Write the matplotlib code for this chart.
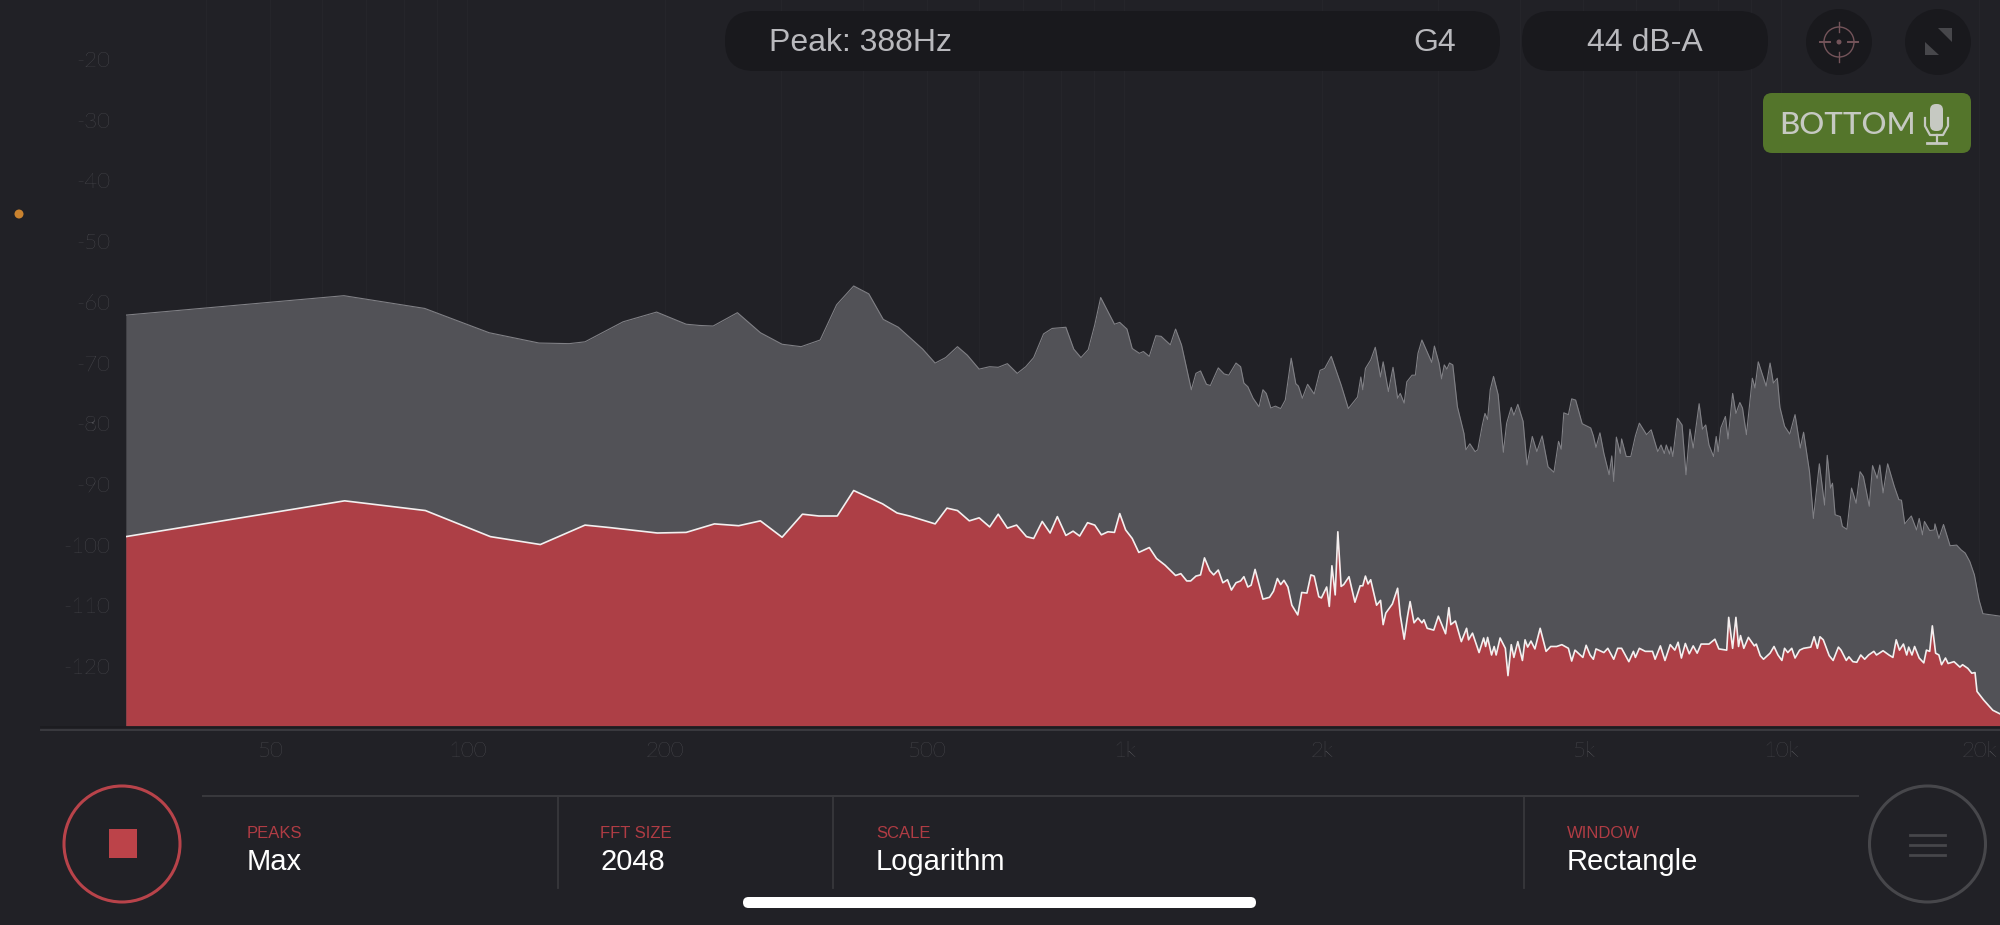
import numpy as np
import matplotlib
matplotlib.use('Agg')
import matplotlib.pyplot as plt
from matplotlib.patches import FancyBboxPatch, Circle, Rectangle, Polygon

BG = '#212126'
DIM = '#636368'
RED = '#ad3f46'

# (log10 of frequency in Hz, level in dB)
peak_max = [
    (1.480, -62.2), (1.812, -59.0), (1.935, -61.1), (2.033, -65.1), (2.109, -66.8), (2.155, -66.9),
    (2.179, -66.6), (2.237, -63.3), (2.288, -61.7), (2.333, -63.7), (2.353, -63.9), (2.374, -64.0),
    (2.411, -61.8), (2.446, -65.1), (2.479, -67.0), (2.508, -67.4), (2.537, -66.3), (2.562, -60.5),
    (2.588, -57.4), (2.611, -58.7), (2.633, -62.9), (2.656, -64.2), (2.693, -67.8), (2.712, -70.1),
    (2.728, -69.2), (2.746, -67.4), (2.761, -68.8), (2.779, -71.1), (2.795, -70.7), (2.808, -70.8),
    (2.822, -70.2), (2.837, -71.8), (2.850, -70.7), (2.862, -69.2), (2.877, -65.3), (2.890, -64.4),
    (2.911, -64.2), (2.923, -67.8), (2.934, -69.2), (2.945, -67.9), (2.955, -63.8), (2.964, -59.3),
    (2.985, -63.7), (2.993, -63.4), (3.004, -64.5), (3.012, -67.7), (3.023, -68.5), (3.029, -68.2),
    (3.038, -69.0), (3.048, -65.6), (3.056, -65.7), (3.070, -67.1), (3.078, -64.5), (3.087, -67.1),
    (3.102, -74.5), (3.109, -71.8), (3.116, -71.4), (3.125, -73.6), (3.131, -73.8), (3.143, -70.9),
    (3.152, -71.9), (3.159, -72.1), (3.170, -70.1), (3.177, -70.7), (3.182, -73.4), (3.188, -74.0),
    (3.196, -75.9), (3.205, -77.3), (3.211, -74.5), (3.216, -75.1), (3.223, -77.5), (3.230, -77.2),
    (3.238, -77.6), (3.245, -76.2), (3.254, -69.3), (3.261, -73.5), (3.265, -73.9), (3.271, -75.9),
    (3.279, -73.6), (3.289, -75.2), (3.298, -71.3), (3.305, -71.0), (3.315, -69.0), (3.330, -73.7),
    (3.341, -77.6), (3.355, -75.7), (3.360, -72.4), (3.363, -74.5), (3.367, -71.0), (3.375, -69.6),
    (3.382, -67.5), (3.390, -72.4), (3.394, -69.9), (3.402, -74.8), (3.409, -70.8), (3.416, -75.9),
    (3.420, -75.1), (3.426, -76.7), (3.430, -73.2), (3.438, -72.1), (3.443, -72.1), (3.447, -68.5),
    (3.453, -66.3), (3.462, -68.5), (3.468, -70.0), (3.472, -67.3), (3.479, -70.1), (3.483, -72.7),
    (3.487, -70.4), (3.491, -71.1), (3.495, -70.1), (3.500, -70.4), (3.507, -77.3), (3.517, -81.7),
    (3.520, -84.4), (3.526, -83.4), (3.534, -84.7), (3.538, -84.4), (3.545, -80.3), (3.549, -78.4),
    (3.553, -79.4), (3.557, -74.5), (3.562, -72.3), (3.569, -75.3), (3.577, -84.8), (3.582, -80.0),
    (3.589, -77.4), (3.593, -78.7), (3.599, -76.9), (3.607, -79.7), (3.613, -86.9), (3.621, -82.2),
    (3.628, -84.7), (3.636, -82.1), (3.645, -87.2), (3.654, -88.1), (3.661, -83.0), (3.665, -84.3),
    (3.669, -78.3), (3.676, -78.6), (3.681, -76.0), (3.687, -76.2), (3.697, -80.1), (3.710, -80.8),
    (3.714, -82.1), (3.718, -84.0), (3.724, -81.6), (3.730, -85.0), (3.738, -88.5), (3.742, -85.4),
    (3.745, -89.6), (3.749, -82.3), (3.755, -85.0), (3.757, -82.6), (3.764, -85.5), (3.771, -85.5),
    (3.778, -82.1), (3.784, -80.0), (3.795, -81.9), (3.802, -81.1), (3.812, -84.7), (3.817, -83.6),
    (3.822, -85.0), (3.825, -83.6), (3.830, -85.1), (3.832, -83.9), (3.835, -85.5), (3.842, -79.2),
    (3.849, -80.3), (3.855, -88.5), (3.861, -81.0), (3.866, -84.1), (3.875, -76.8), (3.880, -81.0),
    (3.885, -80.3), (3.890, -83.6), (3.897, -85.5), (3.901, -82.2), (3.904, -84.7), (3.908, -80.8),
    (3.915, -78.9), (3.919, -82.6), (3.926, -75.1), (3.931, -78.4), (3.937, -76.6), (3.941, -77.5),
    (3.947, -81.9), (3.956, -72.6), (3.960, -74.2), (3.965, -69.9), (3.977, -73.9), (3.983, -70.1),
    (3.988, -73.4), (3.994, -72.6), (3.998, -77.4), (4.005, -80.5), (4.013, -81.8), (4.021, -78.6),
    (4.029, -84.1), (4.034, -81.5), (4.043, -88.0), (4.049, -95.7), (4.058, -86.7), (4.066, -93.5),
    (4.070, -85.3), (4.075, -90.7), (4.078, -89.9), (4.082, -95.1), (4.090, -95.4), (4.093, -97.0),
    (4.100, -97.5), (4.107, -90.7), (4.114, -93.2), (4.120, -88.0), (4.125, -88.8), (4.134, -93.7),
    (4.139, -87.0), (4.146, -89.1), (4.150, -86.9), (4.155, -91.5), (4.162, -86.7), (4.172, -90.4),
    (4.179, -92.6), (4.183, -92.7), (4.188, -96.6), (4.198, -95.3), (4.206, -97.6), (4.210, -95.7),
    (4.215, -98.4), (4.218, -96.2), (4.226, -97.7), (4.233, -97.6), (4.234, -96.6), (4.240, -99.0),
    (4.247, -96.7), (4.257, -100.2), (4.267, -100.1), (4.274, -100.9), (4.280, -101.4), (4.287, -102.8),
    (4.294, -105.0), (4.301, -109.1), (4.307, -111.4), (4.333, -111.8),
]

live = [
    (1.480, -98.7), (1.813, -92.8), (1.936, -94.4), (2.035, -98.7), (2.111, -100.0), (2.179, -96.8),
    (2.216, -97.2), (2.289, -98.1), (2.333, -98.0), (2.376, -96.6), (2.413, -96.9), (2.446, -96.1),
    (2.479, -98.8), (2.510, -95.0), (2.535, -95.3), (2.563, -95.3), (2.588, -91.1), (2.632, -93.3),
    (2.654, -94.8), (2.673, -95.3), (2.712, -96.6), (2.730, -94.0), (2.746, -94.4), (2.764, -96.1),
    (2.779, -95.6), (2.795, -97.1), (2.808, -95.0), (2.822, -97.3), (2.836, -96.8), (2.851, -98.7),
    (2.862, -99.0), (2.875, -96.2), (2.887, -98.1), (2.898, -95.4), (2.911, -98.5), (2.922, -97.8),
    (2.932, -98.6), (2.944, -96.4), (2.955, -96.8), (2.965, -98.4), (2.975, -97.9), (2.985, -98.0),
    (2.993, -94.9), (3.002, -97.6), (3.012, -99.0), (3.022, -101.3), (3.038, -100.5), (3.049, -102.3),
    (3.062, -103.4), (3.078, -105.1), (3.086, -104.8), (3.095, -106.0), (3.101, -106.0), (3.109, -105.2),
    (3.116, -105.0), (3.122, -102.2), (3.130, -104.3), (3.136, -105.0), (3.143, -104.2), (3.150, -106.3),
    (3.157, -105.8), (3.163, -107.5), (3.170, -106.3), (3.177, -106.0), (3.182, -105.3), (3.188, -107.0),
    (3.193, -106.7), (3.199, -104.1), (3.211, -109.0), (3.221, -108.7), (3.227, -107.7), (3.233, -105.6),
    (3.238, -106.6), (3.243, -105.9), (3.249, -107.0), (3.255, -110.0), (3.264, -111.6), (3.270, -107.9),
    (3.278, -108.0), (3.284, -105.0), (3.289, -105.2), (3.296, -108.6), (3.300, -108.8), (3.308, -107.0),
    (3.312, -110.2), (3.316, -103.5), (3.321, -108.3), (3.325, -97.9), (3.330, -106.9), (3.334, -106.6),
    (3.342, -105.3), (3.351, -109.5), (3.359, -106.8), (3.363, -106.8), (3.367, -105.2), (3.371, -106.5),
    (3.375, -105.8), (3.384, -110.0), (3.390, -109.2), (3.394, -113.2), (3.398, -111.3), (3.408, -109.8),
    (3.416, -107.2), (3.420, -111.6), (3.426, -115.6), (3.431, -111.9), (3.435, -109.4), (3.441, -112.9),
    (3.447, -112.1), (3.453, -112.9), (3.456, -112.4), (3.461, -113.8), (3.471, -114.1), (3.478, -111.8),
    (3.489, -114.7), (3.494, -110.4), (3.497, -113.2), (3.504, -112.6), (3.513, -116.0), (3.521, -113.8),
    (3.524, -115.7), (3.530, -114.6), (3.540, -117.8), (3.547, -115.4), (3.550, -116.8), (3.553, -115.3),
    (3.559, -118.2), (3.563, -116.8), (3.566, -118.2), (3.572, -115.4), (3.580, -117.1), (3.584, -121.6),
    (3.589, -116.5), (3.593, -118.6), (3.599, -116.0), (3.606, -119.1), (3.610, -115.7), (3.614, -116.9),
    (3.619, -115.9), (3.625, -117.2), (3.633, -113.8), (3.642, -117.6), (3.649, -116.8), (3.658, -116.8),
    (3.666, -116.5), (3.676, -117.1), (3.681, -119.2), (3.686, -117.4), (3.698, -118.6), (3.703, -116.6),
    (3.709, -118.2), (3.714, -118.9), (3.718, -117.2), (3.730, -117.8), (3.736, -117.1), (3.745, -118.9),
    (3.751, -117.1), (3.757, -117.1), (3.768, -119.3), (3.775, -117.6), (3.778, -118.6), (3.784, -117.1),
    (3.793, -117.6), (3.804, -117.6), (3.808, -118.9), (3.816, -116.7), (3.823, -119.1), (3.831, -116.5),
    (3.838, -117.4), (3.843, -116.1), (3.848, -118.7), (3.854, -116.3), (3.860, -118.0), (3.866, -116.7),
    (3.872, -117.9), (3.878, -116.4), (3.890, -116.4), (3.899, -115.6), (3.905, -117.2), (3.917, -117.4),
    (3.920, -112.0), (3.926, -117.1), (3.931, -112.0), (3.935, -116.8), (3.938, -115.0), (3.943, -117.1),
    (3.950, -115.3), (3.959, -116.7), (3.962, -116.4), (3.968, -118.3), (3.973, -118.9), (3.983, -117.9),
    (3.989, -116.8), (3.995, -118.2), (4.001, -119.1), (4.005, -117.1), (4.010, -117.8), (4.016, -117.1),
    (4.021, -118.7), (4.028, -117.4), (4.034, -117.1), (4.045, -116.9), (4.050, -115.2), (4.055, -117.1),
    (4.059, -115.2), (4.064, -115.7), (4.073, -118.3), (4.079, -119.1), (4.087, -116.9), (4.091, -117.4),
    (4.099, -119.1), (4.103, -118.5), (4.109, -119.3), (4.115, -119.4), (4.121, -118.2), (4.127, -118.9),
    (4.133, -118.2), (4.141, -117.6), (4.145, -118.2), (4.155, -117.5), (4.164, -118.2), (4.170, -118.6),
    (4.175, -115.7), (4.180, -117.4), (4.186, -116.4), (4.191, -118.2), (4.194, -116.9), (4.199, -118.2),
    (4.203, -116.8), (4.210, -118.7), (4.217, -119.5), (4.221, -117.4), (4.226, -117.6), (4.230, -113.4),
    (4.235, -117.9), (4.240, -118.2), (4.244, -119.8), (4.250, -118.7), (4.254, -119.6), (4.263, -119.3),
    (4.272, -120.2), (4.276, -119.8), (4.284, -120.4), (4.290, -121.2), (4.295, -121.1), (4.298, -124.2),
    (4.308, -125.6), (4.322, -127.3), (4.333, -127.9),
]

plt.rcParams['font.family'] = ['Liberation Sans', 'DejaVu Sans']
plt.rcParams['axes.unicode_minus'] = False

fig = plt.figure(figsize=(20, 9.25), dpi=100, facecolor=BG)

# spectrum
ax = fig.add_axes([125.5 / 2000, 199 / 925, 1874.5 / 2000, 726 / 925], facecolor=BG)
floor = -129.9
for series, fill, edge, width in [(peak_max, '#525257', '#808085', 0.8), (live, RED, '#f4efef', 1.2)]:
    hz = 10 ** np.array([p[0] for p in series])
    db = np.array([p[1] for p in series])
    ax.fill_between(hz, db, floor, color=fill, lw=0, zorder=2)
    ax.plot(hz, db, color=edge, lw=width, zorder=3)

ax.set_xscale('log')
ax.set_xlim(10 ** 1.4795, 10 ** 4.333)
ax.set_ylim(floor, -10.28)
for side in ax.spines.values():
    side.set_visible(False)

xt = [50, 100, 200, 500, 1000, 2000, 5000, 10000, 20000]
ax.set_xticks(xt)
ax.set_xticklabels(['50', '100', '200', '500', '1k', '2k', '5k', '10k', '20k'])
minor = [m * d for d in (10, 100, 1000, 10000) for m in range(2, 10)]
ax.set_xticks([f for f in minor if 30 < f < 21000], minor=True)
ax.tick_params(axis='x', which='minor', length=0, labelbottom=False)
ax.tick_params(axis='x', which='major', length=0, pad=11, labelsize=16, colors=DIM)
ax.set_yticks(list(range(-120, -10, 10)))
ax.tick_params(axis='y', length=0, pad=11, labelsize=16, colors=DIM)
for lab in ax.get_xticklabels() + ax.get_yticklabels():
    lab.set_fontfamily(['Lato', 'DejaVu Sans'])
    lab.set_fontweight('light')
ax.grid(axis='x', which='both', color='white', alpha=0.018, lw=1, zorder=4)

# app controls, in screen pixels
ui = fig.add_axes([0, 0, 1, 1], facecolor='none')
ui.set_xlim(0, 2000)
ui.set_ylim(925, 0)
ui.axis('off')


def pill(x0, y0, x1, y1, r, color):
    ui.add_patch(FancyBboxPatch((x0 + r, y0 + r), x1 - x0 - 2 * r, y1 - y0 - 2 * r,
                                boxstyle='round,pad=%s,rounding_size=%s' % (r, r), fc=color, ec='none'))


pill(725, 11, 1500, 71, 29, '#19191d')
pill(1522, 11, 1768, 71, 29, '#19191d')
ui.add_patch(Circle((1839, 42), 33, fc='#19191d', ec='none'))
ui.add_patch(Circle((1938, 42), 33, fc='#19191d', ec='none'))
top = '#b9b9bd'
ui.text(769, 43, 'Peak: 388Hz', color=top, fontsize=23, va='center')
ui.text(1456, 43, 'G4', color=top, fontsize=23, va='center', ha='right')
ui.text(1645, 43, '44 dB-A', color=top, fontsize=23, va='center', ha='center')

cross = '#74545a'
ui.add_patch(Circle((1839, 42), 15, fc='none', ec=cross, lw=1))
ui.add_patch(Circle((1839, 42), 2.5, fc=cross, ec='none'))
ui.plot([1820, 1830], [42, 42], color=cross, lw=1.4)
ui.plot([1848, 1858], [42, 42], color=cross, lw=1.4)
ui.plot([1839, 1839], [22, 32], color=cross, lw=1)
ui.plot([1839, 1839], [52, 62], color=cross, lw=1)
ui.add_patch(Polygon([(1938, 28), (1952, 28), (1952, 42)], fc='#47474b', ec='none'))
ui.add_patch(Polygon([(1925, 42), (1925, 55), (1939, 55)], fc='#47474b', ec='none'))

pill(1763, 93, 1971, 153, 9, '#54752b')
ui.text(1779, 125, 'BOTTOM', color='#c6c9c2', fontsize=22.5, va='center', fontweight='medium',
        family=['Lato', 'DejaVu Sans'])
pill(1930, 104, 1943, 131, 6, '#c6c9c2')
ui.plot([1925, 1925, 1930, 1943, 1948, 1948], [118, 126, 135, 135, 126, 118], color='#c6c9c2', lw=1.6)
ui.plot([1936.5, 1936.5], [135, 142], color='#c6c9c2', lw=1.6)
ui.plot([1927, 1946], [142.5, 142.5], color='#c6c9c2', lw=2)

ui.add_patch(Circle((19, 214), 4.5, fc='#c9822f', ec='none'))
ui.plot([41, 2000], [727, 727], color='#1b1b1f', lw=1.2)
ui.plot([41, 2000], [729.5, 729.5], color='#3a3a3f', lw=1.4)

ui.add_patch(Circle((122, 844), 58, fc='none', ec='#b8434a', lw=2.2))
ui.add_patch(Rectangle((108.5, 829), 28.5, 29, fc='#bc4349', ec='none'))
ui.add_patch(Circle((1927.5, 844), 58, fc='none', ec='#47474b', lw=2.2))
for y in (835, 845, 855):
    ui.plot([1910, 1945], [y, y], color='#47474b', lw=2)

ui.plot([203, 1858], [796, 796], color='#38383c', lw=1.5)
for x in (558, 833, 1524):
    ui.plot([x, x], [797, 888], color='#38383c', lw=1.3)

settings = [(247, 'PEAKS', 'Max'), (600, 'FFT SIZE', '2048'), (876, 'SCALE', 'Logarithm'), (1567, 'WINDOW', 'Rectangle')]
for x, name, value in settings:
    ui.text(x, 834, name, color='#b03c44', fontsize=12, va='center')
    ui.text(x, 862, value, color='white', fontsize=21, va='center')

pill(743, 897, 1256, 908, 5.5, 'white')

plt.savefig('out.png', dpi=100, facecolor=BG)
